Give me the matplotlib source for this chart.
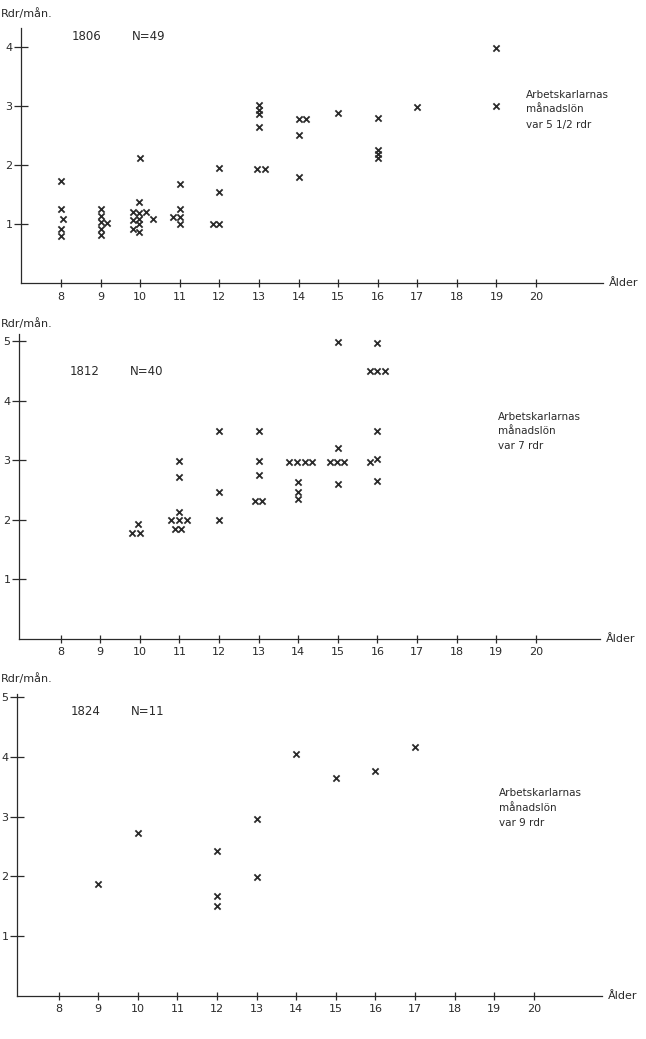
import matplotlib
matplotlib.use("Agg")
import matplotlib.pyplot as plt

plt.rcParams['font.family'] = ['DejaVu Sans']

# ---------------- data ----------------
x_ticks = [8, 9, 10, 11, 12, 13, 14, 15, 16, 17, 18, 19, 20]

# 1806
age_1806 = [8, 8, 8.05, 8, 8,
            9, 9, 9, 9, 9, 9.15,
            10, 9.98, 9.82, 9.82, 9.82, 9.98, 9.98, 9.98, 9.98, 10.14, 10.32,
            11, 11, 10.82, 11, 11,
            12, 12, 11.85, 12,
            13, 13, 13, 13, 12.95, 13.15,
            14, 14.2, 14, 14,
            15,
            16, 16, 16, 16,
            17,
            19, 19]
wage_1806 = [1.73, 1.26, 1.10, 0.92, 0.80,
             1.27, 1.15, 1.04, 0.93, 0.82, 1.02,
             2.12, 1.38, 1.22, 1.08, 0.92, 1.20, 1.10, 1.00, 0.88, 1.22, 1.10,
             1.68, 1.27, 1.13, 1.13, 1.00,
             1.95, 1.55, 1.00, 1.00,
             3.03, 2.94, 2.87, 2.66, 1.94, 1.94,
             2.78, 2.78, 2.52, 1.80,
             2.89,
             2.80, 2.26, 2.19, 2.12,
             2.99,
             3.99, 3.00]

# 1812
age_1812 = [9.8, 10.0, 9.95,
            11, 11, 11, 10.8, 11.0, 11.18, 10.9, 11.05,
            12, 12, 12,
            13, 13, 13, 12.9, 13.08,
            13.78, 13.97, 14.16, 14.35, 14, 14, 14,
            15, 15, 14.8, 14.98, 15.16, 15,
            16, 15.8, 16.0, 16.2, 16, 16, 15.82, 16]
wage_1812 = [1.77, 1.77, 1.92,
             2.98, 2.72, 2.13, 2.00, 2.00, 2.00, 1.84, 1.84,
             3.49, 2.46, 2.00,
             3.49, 2.98, 2.74, 2.31, 2.31,
             2.97, 2.97, 2.97, 2.97, 2.63, 2.47, 2.35,
             4.99, 3.20, 2.97, 2.97, 2.97, 2.60,
             4.97, 4.50, 4.50, 4.50, 3.49, 3.01, 2.97, 2.64]

# 1824
age_1824 = [9, 10, 12, 12, 12, 13, 13, 14, 15, 16, 17]
wage_1824 = [1.88, 2.72, 2.42, 1.67, 1.50, 2.96, 1.99, 4.04, 3.65, 3.76, 4.16]

panels = [
    dict(year='1806', n='N=49', ages=age_1806, wages=wage_1806,
         yticks=[1, 2, 3, 4], note=['Arbetskarlarnas', 'månadslön', 'var 5 1/2 rdr']),
    dict(year='1812', n='N=40', ages=age_1812, wages=wage_1812,
         yticks=[1, 2, 3, 4, 5], note=['Arbetskarlarnas', 'månadslön', 'var 7 rdr']),
    dict(year='1824', n='N=11', ages=age_1824, wages=wage_1824,
         yticks=[1, 2, 3, 4, 5], note=['Arbetskarlarnas', 'månadslön', 'var 9 rdr']),
]

# ---------------- layout (pixels) ----------------
W, H = 646, 1039
geom = [
    (21, 603, 283.5, 28.0, (6.99, 21.69), (0, 4.33)),
    (19, 600, 638.5, 333.9, (6.95, 21.62), (0, 5.12)),
    (17, 602, 996.0, 694.0, (6.95, 21.72), (0, 5.05)),
]
label_pos = [
    (8.28, 9.79, 4.18, 19.74, [3.19, 2.95, 2.69]),
    (8.23, 9.74, 4.49, 19.04, [3.73, 3.49, 3.24]),
    (8.31, 9.83, 4.75, 19.13, [3.40, 3.15, 2.90]),
]
ylab_y = [13.5, 323.3, 678.3]

ink = '#2a2a2a'
fig = plt.figure(figsize=(W / 100, H / 100), dpi=100)

for p, g, lp, yl in zip(panels, geom, label_pos, ylab_y):
    l, r, b, t, xl, ylm = g
    ax = fig.add_axes([l / W, 1 - b / H, (r - l) / W, (b - t) / H])
    ax.set_xlim(*xl)
    ax.set_ylim(*ylm)
    ax.scatter(p['ages'], p['wages'], marker='x', s=20, linewidths=1.3,
               color=ink, clip_on=False, zorder=3)
    for s in ['top', 'right']:
        ax.spines[s].set_visible(False)
    for s in ['left', 'bottom']:
        ax.spines[s].set_color(ink)
        ax.spines[s].set_linewidth(0.9)
    ax.set_xticks(x_ticks)
    ax.set_yticks(p['yticks'])
    ax.tick_params(axis='x', direction='inout', length=6, width=0.9,
                   color=ink, labelsize=8, labelcolor=ink, pad=3)
    ax.tick_params(axis='y', direction='inout', length=10, width=0.9,
                   color=ink, labelsize=8, labelcolor=ink, pad=1)
    ax.patch.set_visible(False)
    xy, xn, yy, xnote, ynote = lp
    ax.text(xy, yy, p['year'], fontsize=8.5, color=ink, va='center', ha='left')
    ax.text(xn, yy, p['n'], fontsize=8.5, color=ink, va='center', ha='left')
    for line, yv in zip(p['note'], ynote):
        ax.text(xnote, yv, line, fontsize=7.5, color=ink, va='center', ha='left')
    ax.text(xl[1] + 0.15, 0, 'Ålder', fontsize=8, color=ink, va='center',
            ha='left', clip_on=False)
    fig.text(0.5 / W, 1 - yl / H, 'Rdr/mån.', fontsize=8, color=ink,
             va='center', ha='left')

fig.savefig('out.png', dpi=100)
